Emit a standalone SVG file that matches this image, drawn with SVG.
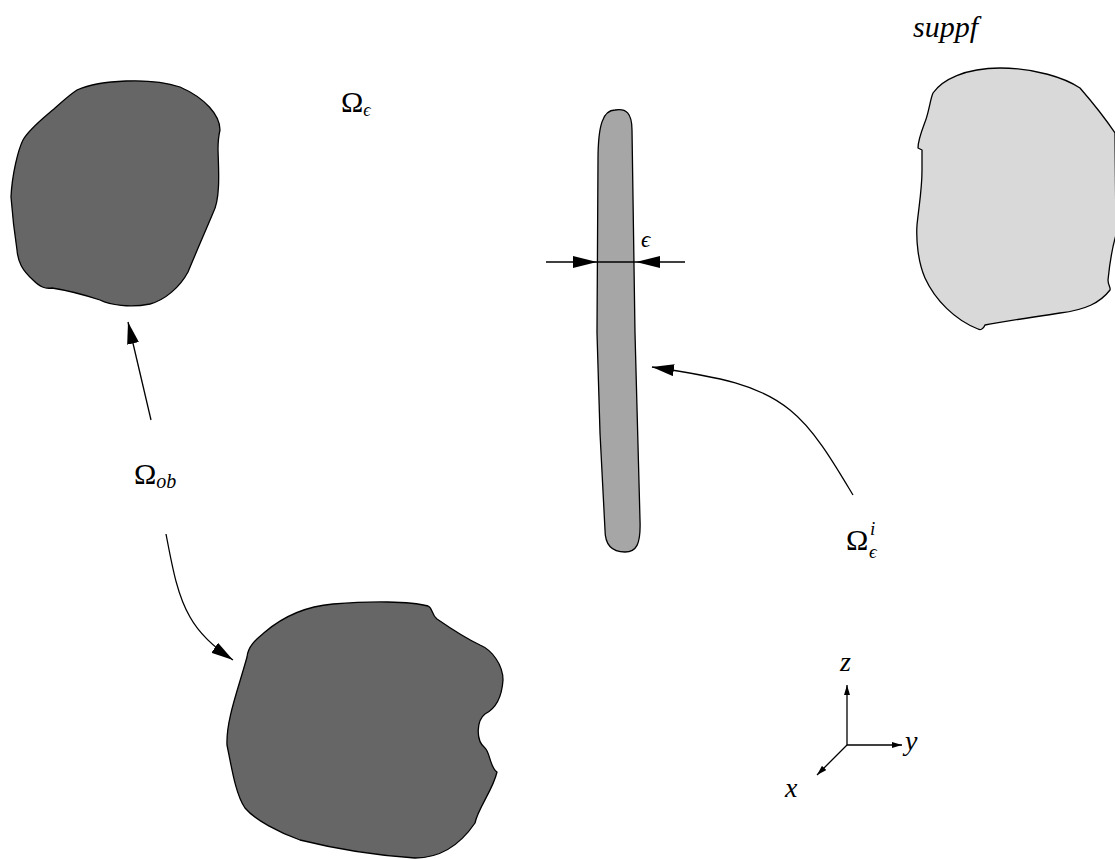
<svg xmlns="http://www.w3.org/2000/svg" width="1115" height="859" viewBox="0 0 1115 859">
<style>
.blob{stroke:#000;stroke-width:1.3;stroke-linejoin:round}
.dark{fill:#666666}
.mid{fill:#a6a6a6}
.light{fill:#d9d9d9}
.ln{fill:none;stroke:#000;stroke-width:1.3}
.lbl{font-family:"Liberation Serif","DejaVu Serif",serif;fill:#000}
.it{font-style:italic}
</style>
<defs>
<marker id="big" viewBox="0 0 22 12" refX="22" refY="6" markerWidth="22" markerHeight="12" markerUnits="userSpaceOnUse" orient="auto"><path d="M0,0 L22,6 L0,12 Z" fill="#000"/></marker>
<marker id="dim" viewBox="0 0 24 12" refX="24" refY="6" markerWidth="24" markerHeight="12" markerUnits="userSpaceOnUse" orient="auto"><path d="M0,0 L24,6 L0,12 Z" fill="#000"/></marker>
<marker id="small" viewBox="0 0 10 6" refX="10" refY="3" markerWidth="10" markerHeight="6" markerUnits="userSpaceOnUse" orient="auto"><path d="M0,0 L10,3 L0,6 Z" fill="#000"/></marker>
</defs>
<g id="obstacle-top">
<path class="blob dark" d="M77,90 C100,80 150,77 180,87 C205,98 220,115 220,130 C218,138 218,142 218,150 C219,175 220,200 213,213 C205,232 195,255 188,272 C180,287 165,300 150,304 C130,308 110,305 100,300 C85,295 65,290 52,288 C45,289 40,287 33,280 C22,270 18,262 17,250 C14,230 12,210 11,197 C12,175 18,150 23,140 C30,128 45,117 55,108 C62,102 68,96 77,90 Z"/>
</g>
<g id="obstacle-bottom">
<path class="blob dark" d="M333,604 C370,601 410,601 428,606 C433,608 431,614 437,619 C450,628 465,638 480,645 C492,650 503,665 503,680 C502,695 497,708 485,714 C477,720 475,740 485,748 C490,752 490,768 497,772 C493,790 478,808 475,823 C460,845 440,858 415,858 C385,856 340,850 300,840 C280,833 255,820 245,808 C236,795 232,770 227,745 C226,720 238,690 247,657 C248,645 258,638 265,632 C285,615 310,606 333,604 Z"/>
</g>
<g id="strip">
<path class="blob mid" d="M615,110 C626,108 632,113 632,130 L635,333 L640,520 C641,545 636,552 625,552 C612,552 605,545 605,530 L600,433 L597,333 L598,160 C598,125 603,110 615,110 Z"/>
</g>
<g id="suppf-region">
<path class="blob light" d="M1000,68 C1035,68 1065,78 1080,88 C1093,103 1105,118 1115,133 L1116,235 C1113,245 1110,260 1108,280 C1108,285 1111,288 1110,290 C1100,303 1085,310 1060,313 C1035,317 1005,321 985,325 C983,330 980,330 978,329 C955,320 935,300 925,278 C918,262 916,240 917,225 C919,205 922,190 922,170 L922,150 L918,148 C918,140 922,130 925,122 C929,112 930,100 933,93 C942,80 965,68 1000,68 Z"/>
</g>
<g id="connectors">
<line class="ln" x1="151" y1="420" x2="128" y2="322" marker-end="url(#big)"/>
<path class="ln" d="M166,534 C172,565 177,595 190,617 C200,635 215,648 233,660" marker-end="url(#big)"/>
<path class="ln" d="M853,495 C835,465 815,430 790,410 C760,385 720,377 652,367" marker-end="url(#big)"/>
<line class="ln" x1="546" y1="262" x2="597" y2="262" marker-end="url(#dim)"/>
<line class="ln" x1="685" y1="262" x2="636" y2="262" marker-end="url(#dim)"/>
<line class="ln" x1="597" y1="262" x2="636" y2="262"/>
<line class="ln" x1="847" y1="745" x2="847" y2="685" marker-end="url(#small)"/>
<line class="ln" x1="847" y1="745" x2="902" y2="745" marker-end="url(#small)"/>
<line class="ln" x1="847" y1="745" x2="817" y2="775" marker-end="url(#small)"/>
</g>
<g id="labels">
<text class="lbl it" x="913" y="37" font-size="30">suppf</text>
<text class="lbl" x="341" y="112" font-size="30">Ω<tspan class="it" font-size="18" dy="4">ϵ</tspan></text>
<text class="lbl" x="134" y="484" font-size="30">Ω<tspan class="it" font-size="20" dy="4">ob</tspan></text>
<text class="lbl" x="846" y="550" font-size="30">Ω<tspan class="it" font-size="19" x="870" y="535">i</tspan><tspan class="it" font-size="19" x="869" y="558">ϵ</tspan></text>
<text class="lbl it" x="641" y="247" font-size="23">ϵ</text>
<text class="lbl it" x="840" y="671" font-size="28">z</text>
<text class="lbl it" x="905" y="750" font-size="28">y</text>
<text class="lbl it" x="785" y="797" font-size="28">x</text>
</g>
</svg>
